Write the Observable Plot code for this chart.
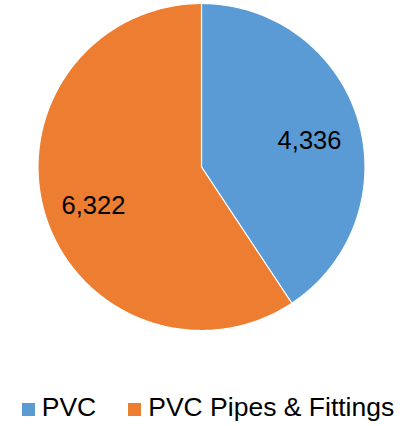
<!DOCTYPE html>
<html>
<head>
<meta charset="utf-8">
<script src="https://cdn.jsdelivr.net/npm/d3@7"></script>
<script src="https://cdn.jsdelivr.net/npm/@observablehq/plot@0.6"></script>
<style>
  html, body { margin: 0; padding: 0; background: #fff; }
  body { width: 416px; height: 426px; overflow: hidden; font-family: "Liberation Sans", Arial, sans-serif; }
  #legend { height: 46px; box-sizing: border-box; padding-top: 12px; padding-left: 0px; display: flex; justify-content: center; font-size: 26.5px; line-height: 30px; color: #000; }
  .item { white-space: nowrap; }
  .item + .item { margin-left: 32px; }
  .sw { display: inline-block; width: 13px; height: 13px; margin-right: 7px; vertical-align: baseline; }
</style>
</head>
<body>
<div id="chart"></div>
<div id="legend"></div>
<script>
const categories = ["PVC", "PVC Pipes & Fittings"];
const values = [4336, 6322];
const colors = ["#5B9BD5", "#ED7D31"];

const data = categories.map((name, i) => ({name, value: values[i]}));
const arcs = d3.pie().sort(null).value(d => d.value)(data);

// polygon points for each slice (unit circle, angle clockwise from top)
const pts = [];
for (const a of arcs) {
  const n = 240;
  pts.push({name: a.data.name, x: 0, y: 0});
  for (let k = 0; k <= n; k++) {
    const t = a.startAngle + (a.endAngle - a.startAngle) * k / n;
    pts.push({name: a.data.name, x: Math.sin(t), y: Math.cos(t)});
  }
}
const labelR = 0.69;
const labels = arcs.map(a => {
  const m = (a.startAngle + a.endAngle) / 2;
  return {name: a.data.name, value: a.data.value, x: labelR * Math.sin(m), y: labelR * Math.cos(m)};
});

const chart = Plot.plot({
  width: 416,
  height: 380,
  margin: 0,
  x: {domain: [-1, 1], range: [37.5, 364.5], axis: null},
  y: {domain: [-1, 1], range: [330, 3], axis: null},
  color: {domain: categories, range: colors},
  style: {fontFamily: "'Liberation Sans', Arial, sans-serif", background: "#fff"},
  marks: [
    Plot.line(pts, {x: "x", y: "y", z: "name", fill: "name", stroke: "#fff", strokeWidth: 1.2, curve: "linear-closed"}),
    Plot.text(labels, {x: "x", y: "y", text: d => d3.format(",")(d.value), fontSize: 25.5, fill: "#000", dy: 6})
  ]
});
document.getElementById("chart").appendChild(chart);

const legend = document.getElementById("legend");
categories.forEach((c, i) => {
  const it = document.createElement("span");
  it.className = "item";
  const sw = document.createElement("span");
  sw.className = "sw";
  sw.style.background = colors[i];
  it.appendChild(sw);
  it.appendChild(document.createTextNode(c));
  legend.appendChild(it);
});
</script>
</body>
</html>
